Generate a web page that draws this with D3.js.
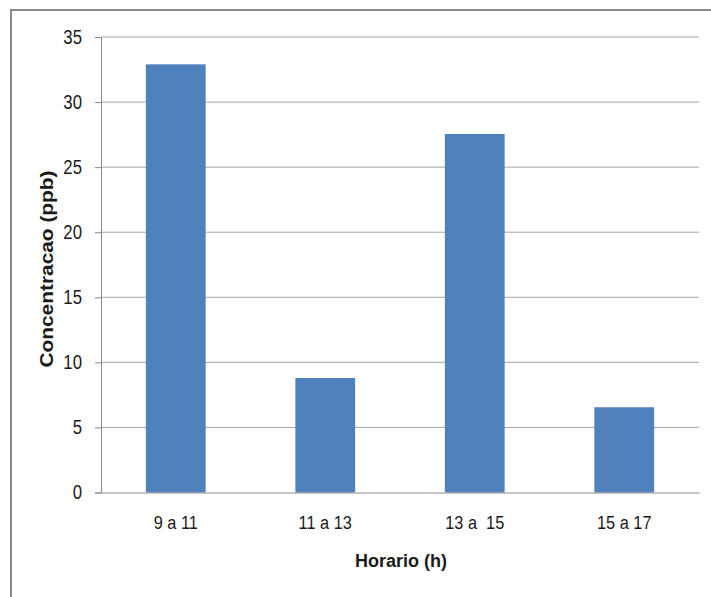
<!DOCTYPE html>
<html>
<head>
<meta charset="utf-8">
<script src="https://cdn.jsdelivr.net/npm/d3@7"></script>
<style>
  html, body { margin: 0; padding: 0; background: #fff; }
  svg { display: block; }
  text { font-family: "Liberation Sans", Arial, sans-serif; fill: #1a1a1a; }
</style>
</head>
<body>
<svg id="chart" width="711" height="597"></svg>
<script>
// Ozone concentration by time-of-day window
const categories = ["9 a 11", "11 a 13", "13 a  15", "15 a 17"];
const values = [32.9, 8.8, 27.55, 6.55];
const yTicks = [0, 5, 10, 15, 20, 25, 30, 35];
const yTitle = "Concentracao (ppb)";
const xTitle = "Horario (h)";

const svg = d3.select("#chart");
const W = 711, H = 597;
const plot = { left: 101, right: 699, top: 37, bottom: 492.5 };
const labelScaleX = 0.86;   // condensed look for tick labels

// chart frame (runs past the right and bottom edges)
svg.append("rect")
  .attr("x", 11).attr("y", 10)
  .attr("width", W + 20).attr("height", H + 20)
  .attr("fill", "#fff")
  .attr("stroke", "#8a8a8a").attr("stroke-width", 2);

const x = d3.scaleBand()
  .domain(categories)
  .range([plot.left, plot.right])
  .paddingInner(0.6)
  .paddingOuter(0.3);

const y = d3.scaleLinear()
  .domain([0, 35])
  .range([plot.bottom, plot.top]);

// horizontal gridlines
svg.append("g")
  .selectAll("line")
  .data(yTicks.filter(d => d > 0))
  .join("line")
  .attr("x1", plot.left).attr("x2", plot.right)
  .attr("y1", d => y(d)).attr("y2", d => y(d))
  .attr("stroke", "#a6a6a6").attr("stroke-width", 1);

// y axis
const yAxis = svg.append("g")
  .attr("transform", `translate(${plot.left},0)`)
  .call(d3.axisLeft(y).tickValues(yTicks).tickSize(6).tickPadding(13).tickFormat(d3.format("d")));
yAxis.select(".domain").attr("stroke", "#8a8a8a");
yAxis.selectAll(".tick line").attr("stroke", "#8a8a8a");
yAxis.selectAll(".tick text")
  .attr("font-size", 19.5)
  .attr("font-family", "Liberation Sans, Arial, sans-serif")
  .attr("fill", "#1a1a1a")
  .attr("x", -19 / labelScaleX)
  .attr("transform", `scale(${labelScaleX},1)`);

// bars
svg.append("g")
  .selectAll("rect")
  .data(values)
  .join("rect")
  .attr("x", (d, i) => x(categories[i]))
  .attr("width", x.bandwidth())
  .attr("y", d => y(d))
  .attr("height", d => y(0) - y(d))
  .attr("fill", "#4f81bd");

// x axis
const xAxis = svg.append("g")
  .attr("transform", `translate(0,${plot.bottom})`)
  .call(d3.axisBottom(x).tickSize(0).tickPadding(23));
xAxis.select(".domain").attr("stroke", "#8a8a8a");
xAxis.selectAll(".tick text")
  .attr("font-size", 19)
  .attr("font-family", "Liberation Sans, Arial, sans-serif")
  .attr("fill", "#1a1a1a")
  .attr("transform", `scale(${labelScaleX},1)`)
  .style("white-space", "pre");

// axis titles
svg.append("text")
  .attr("x", 401).attr("y", 567)
  .attr("text-anchor", "middle")
  .attr("font-size", 18).attr("font-weight", "bold")
  .text(xTitle);

svg.append("text")
  .attr("transform", "translate(53,269) rotate(-90) scale(1.16,1)")
  .attr("text-anchor", "middle")
  .attr("font-size", 18).attr("font-weight", "bold")
  .text(yTitle);
</script>
</body>
</html>
